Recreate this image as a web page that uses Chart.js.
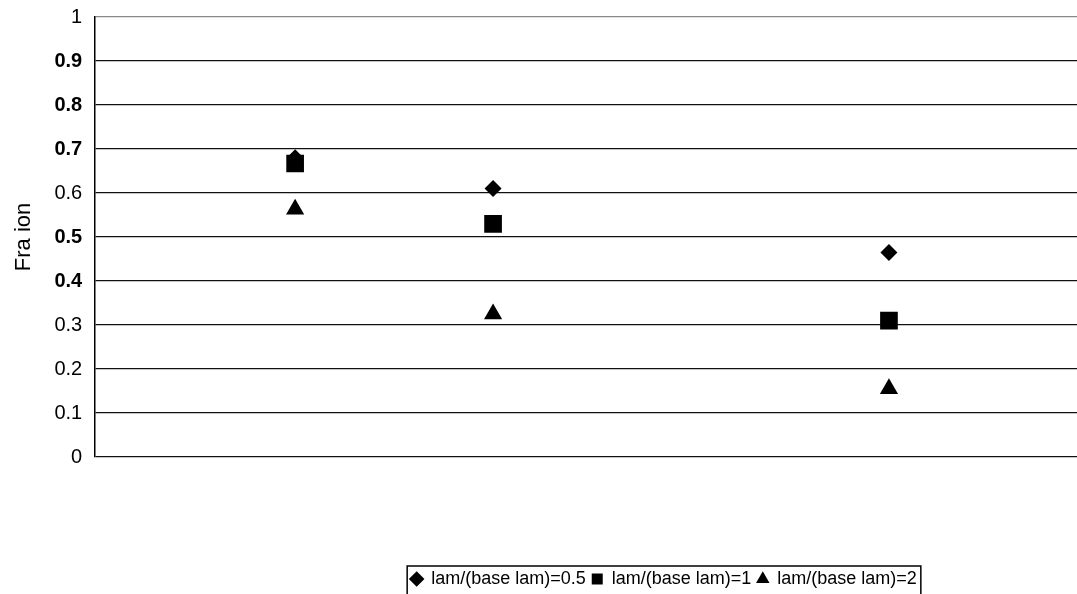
<!DOCTYPE html>
<html>
<head>
<meta charset="utf-8">
<script src="https://cdn.jsdelivr.net/npm/chart.js@4"></script>
<style>
  html, body { margin: 0; padding: 0; background: #fff; }
  #wrap { width: 1077px; height: 594px; }
</style>
</head>
<body>
<div id="wrap"><canvas id="c" width="1077" height="594"></canvas></div>
<script>
// ---- data ----
const xValues = [1, 2, 4];
const seriesNames = ['lam/(base lam)=0.5', 'lam/(base lam)=1', 'lam/(base lam)=2'];
const series05 = [0.68, 0.61, 0.465];
const series1 = [0.667, 0.53, 0.31];
const series2 = [0.563, 0.325, 0.155];
const yTickValues = [0, 0.1, 0.2, 0.3, 0.4, 0.5, 0.6, 0.7, 0.8, 0.9, 1];
const yTickLabels = ['0', '0.1', '0.2', '0.3', '0.4', '0.5', '0.6', '0.7', '0.8', '0.9', '1'];
const boldTicks = [0.4, 0.5, 0.7, 0.8, 0.9];
const yTitle = 'Fra ion';

const toPoints = arr => arr.map((v, i) => ({ x: xValues[i], y: v }));
const FONT = "'Liberation Sans', Arial, sans-serif";

const legendPlugin = {
  id: 'legendShiftBox',
  afterLayout(chart) {
    const L = chart.legend;
    const shiftX = 120, shiftY = 4;
    L.left += shiftX; L.right += shiftX;
    L.top += shiftY; L.bottom += shiftY;
  },
  afterDraw(chart) {
    const L = chart.legend;
    const hb = L.legendHitBoxes;
    if (!hb || !hb.length) return;
    const left = Math.min(...hb.map(h => h.left)) - 4;
    const right = Math.max(...hb.map(h => h.left + h.width)) + 4;
    const top = Math.min(...hb.map(h => h.top)) - 4;
    const bottom = Math.max(...hb.map(h => h.top + h.height)) + 8;
    const ctx = chart.ctx;
    ctx.save();
    ctx.strokeStyle = '#000';
    ctx.lineWidth = 1.5;
    ctx.strokeRect(left, top, right - left, bottom - top);
    ctx.restore();
  }
};

new Chart(document.getElementById('c'), {
  type: 'scatter',
  data: {
    datasets: [
      { label: seriesNames[0], data: toPoints(series05), pointStyle: 'rectRot', pointRadius: 8.5,
        backgroundColor: '#000', borderColor: '#000', borderWidth: 0 },
      { label: seriesNames[1], data: toPoints(series1), pointStyle: 'rect', pointRadius: 12.5,
        backgroundColor: '#000', borderColor: '#000', borderWidth: 0 },
      { label: seriesNames[2], data: toPoints(series2), pointStyle: 'triangle', pointRadius: 10.5,
        backgroundColor: '#000', borderColor: '#000', borderWidth: 0 }
    ]
  },
  options: {
    responsive: false,
    animation: false,
    devicePixelRatio: 1,
    layout: { autoPadding: false, padding: { top: 0, right: 0, left: 11, bottom: 0 } },
    plugins: {
      tooltip: { enabled: false },
      legend: {
        position: 'bottom',
        labels: {
          usePointStyle: true,
          boxWidth: 11,
          boxHeight: 11,
          padding: 6,
          color: '#000',
          font: { family: FONT, size: 18 }
        }
      }
    },
    scales: {
      x: {
        type: 'linear',
        min: -0.01,
        max: 4.95,
        grid: { display: false },
        border: { display: false },
        ticks: { display: false },
        afterFit(scale) { scale.height = 103; }
      },
      y: {
        min: 0,
        max: 1,
        afterBuildTicks(scale) { scale.ticks = yTickValues.map(v => ({ value: v })); },
        afterFit(scale) { scale.paddingTop = 17; },
        grid: {
          drawTicks: false,
          color: ctx => (ctx.tick && ctx.tick.value === 1) ? '#888' : '#111',
          lineWidth: 1.3
        },
        border: { display: true, color: '#000', width: 1.5 },
        ticks: {
          padding: 13,
          color: '#000',
          callback: (v) => yTickLabels[yTickValues.indexOf(v)] ?? String(v),
          font: ctx => ({ family: FONT, size: 20,
            weight: (ctx.tick && boldTicks.includes(ctx.tick.value)) ? 'bold' : 'normal' })
        },
        title: {
          display: true,
          text: yTitle,
          color: '#000',
          padding: { top: 0, bottom: 4 },
          font: { family: FONT, size: 22 }
        }
      }
    }
  },
  plugins: [legendPlugin]
});
</script>
</body>
</html>
